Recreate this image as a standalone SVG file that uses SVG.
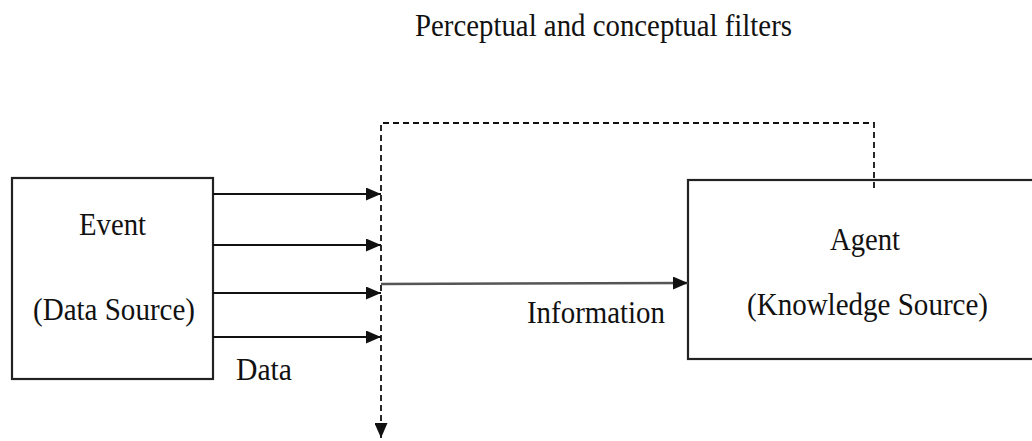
<svg xmlns="http://www.w3.org/2000/svg" width="1032" height="441" viewBox="0 0 1032 441">
  <style>
    .box { fill: #ffffff; stroke: #222222; stroke-width: 2.2; }
    .lbl { font-family: "Liberation Serif", "Times New Roman", serif; font-size: 31px; fill: #111111; }
    .flow { stroke: #111111; stroke-width: 2.2; fill: none; }
    .info { stroke: #555555; stroke-width: 2.5; fill: none; }
    .dash { stroke: #111111; stroke-width: 1.8; fill: none; stroke-dasharray: 6 4; }
  </style>
  <defs>
    <marker id="tri" viewBox="0 0 15 13" refX="15" refY="6.5" markerWidth="15" markerHeight="13" markerUnits="userSpaceOnUse" orient="auto">
      <path d="M0,0 L15,6.5 L0,13 Z" fill="#111111"/>
    </marker>
  </defs>

  <text class="lbl" x="415" y="36" textLength="377" lengthAdjust="spacingAndGlyphs">Perceptual and conceptual filters</text>

  <g id="event">
    <rect class="box" x="12" y="178" width="201" height="201"/>
    <text class="lbl" x="79" y="235" textLength="67" lengthAdjust="spacingAndGlyphs">Event</text>
    <text class="lbl" x="33" y="320" textLength="162" lengthAdjust="spacingAndGlyphs">(Data Source)</text>
  </g>

  <g id="agent">
    <rect class="box" x="688" y="180" width="360" height="179"/>
    <text class="lbl" x="830" y="250" textLength="70" lengthAdjust="spacingAndGlyphs">Agent</text>
    <text class="lbl" x="747" y="315" textLength="241" lengthAdjust="spacingAndGlyphs">(Knowledge Source)</text>
  </g>

  <g id="connectors">
    <!-- data flows from the event into the filter -->
    <line class="flow" x1="213" y1="194" x2="381" y2="194" marker-end="url(#tri)"/>
    <line class="flow" x1="213" y1="245" x2="381" y2="245" marker-end="url(#tri)"/>
    <line class="flow" x1="213" y1="293" x2="381" y2="293" marker-end="url(#tri)"/>
    <line class="flow" x1="213" y1="337" x2="381" y2="337" marker-end="url(#tri)"/>
    <!-- filter boundary with feedback from the agent -->
    <path class="dash" d="M874,188 V123 H381 V438" marker-end="url(#tri)"/>
    <!-- information passed on to the agent -->
    <line class="info" x1="381" y1="284" x2="688" y2="283" marker-end="url(#tri)"/>
  </g>

  <g id="labels">
    <text class="lbl" x="527" y="323" textLength="138" lengthAdjust="spacingAndGlyphs">Information</text>
    <text class="lbl" x="236" y="380" textLength="56" lengthAdjust="spacingAndGlyphs">Data</text>
  </g>
</svg>
